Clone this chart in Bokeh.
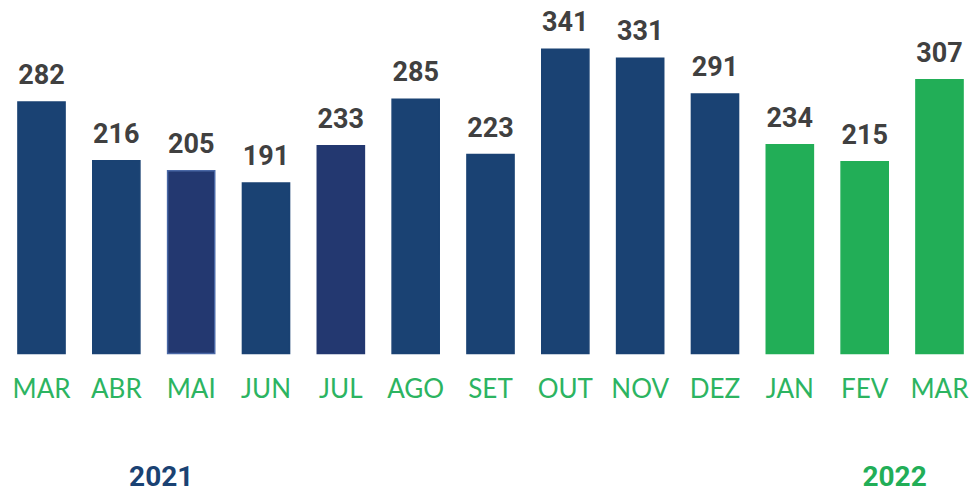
from bokeh.plotting import figure
from bokeh.models import ColumnDataSource, Range1d
from bokeh.core.properties import value
from bokeh.embed import file_html
from bokeh.resources import INLINE

months = ["MAR", "ABR", "MAI", "JUN", "JUL", "AGO", "SET", "OUT", "NOV", "DEZ", "JAN", "FEV", "MAR"]
values = [282, 216, 205, 191, 233, 285, 223, 341, 331, 291, 234, 215, 307]
bar_colors = ["#1a4273", "#1a4273", "#233870", "#1a4273", "#233870", "#1a4273", "#1a4273",
              "#1a4273", "#1a4273", "#1a4273", "#22ae57", "#22ae57", "#22ae57"]
border_colors = ["#1a4273", "#1a4273", "#4a68a6", "#1a4273", "#233870", "#1a4273", "#1a4273",
                 "#1a4273", "#1a4273", "#1a4273", "#22ae57", "#22ae57", "#22ae57"]
years = ["2021", "2022"]
year_pos = [1.6, 11.4]
year_colors = ["#1a4273", "#22ae57"]

x = list(range(len(months)))
src = ColumnDataSource(dict(x=x, top=values, label=[str(v) for v in values],
                            month=months, color=bar_colors, line=border_colors,
                            zero=[0] * len(x)))

p = figure(width=969, height=493, output_backend="svg", toolbar_location=None,
           x_range=Range1d(-0.548, 12.401), y_range=Range1d(-156.9, 395.7),
           min_border=0, outline_line_color=None, background_fill_color="white",
           border_fill_color="white")
p.axis.visible = False
p.grid.visible = False

p.vbar(x="x", top="top", bottom=0, width=0.63, fill_color="color", line_color="line",
       line_width=1.5, line_join="miter", source=src)

p.text(x="x", y="top", text="label", source=src, text_align="center",
       text_baseline="alphabetic", y_offset=-28, text_color="#404040",
       text_font=value("Roboto"), text_font_style="bold", text_font_size="27px")

p.text(x="x", y="zero", text="month", source=src, text_align="center",
       text_baseline="alphabetic", y_offset=34, text_color="#2cb461",
       text_font=value("Lato"), text_font_size="26px")

ysrc = ColumnDataSource(dict(x=year_pos, y=[0, 0], t=years, c=year_colors))
p.text(x="x", y="y", text="t", source=ysrc, text_align="center",
       text_baseline="alphabetic", y_offset=122, text_color="c",
       text_font=value("Roboto"), text_font_style="bold", text_font_size="28px")

open("out.html", "w").write(file_html(p, INLINE))
